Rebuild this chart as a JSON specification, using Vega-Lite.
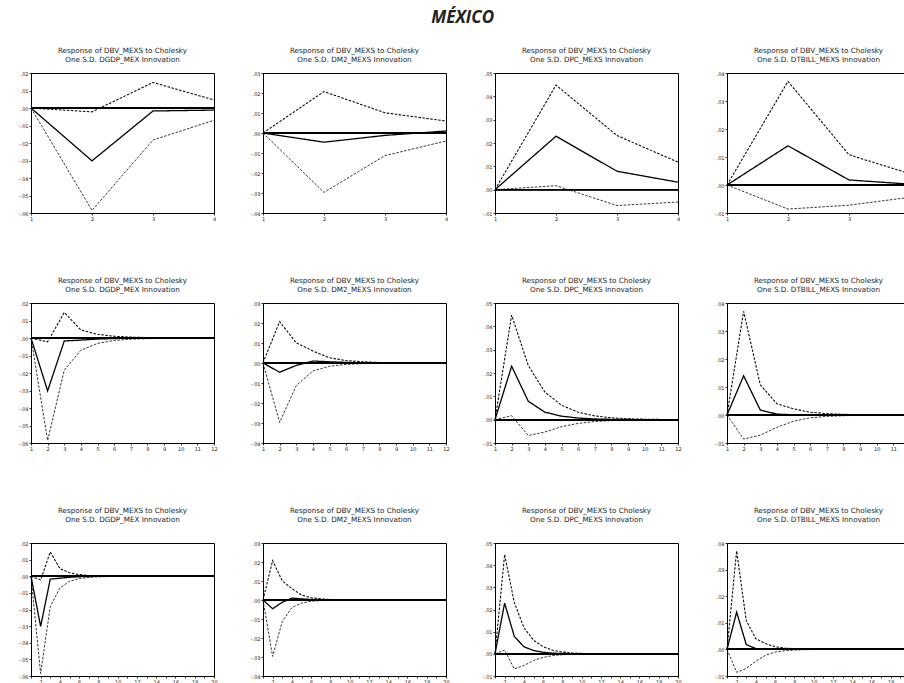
{
 "$schema": "https://vega.github.io/schema/vega-lite/v6.json",
 "padding": {"left": 17, "top": 9, "right": 0, "bottom": 0},
 "background": "white",
 "title": {"text": "MÉXICO", "font": "Open Sans", "fontSize": 17, "fontStyle": "italic", "fontWeight": "bold", "color": "#222", "anchor": "middle", "offset": 19, "dx": -3},
 "data": {"values": [
  {"shock":"DGDP_MEX","period":1,"resp":0,"upper":0,"lower":0},
  {"shock":"DGDP_MEX","period":2,"resp":-0.0302,"upper":-0.0022,"lower":-0.0585},
  {"shock":"DGDP_MEX","period":3,"resp":-0.0017,"upper":0.0146,"lower":-0.0183},
  {"shock":"DGDP_MEX","period":4,"resp":-0.0012,"upper":0.0046,"lower":-0.0070},
  {"shock":"DGDP_MEX","period":5,"resp":-0.0006,"upper":0.0021,"lower":-0.0031},
  {"shock":"DGDP_MEX","period":6,"resp":-0.0003,"upper":0.0010,"lower":-0.0014},
  {"shock":"DGDP_MEX","period":7,"resp":-0.00015,"upper":0.0005,"lower":-0.0007},
  {"shock":"DGDP_MEX","period":8,"resp":-0.00008,"upper":0.00025,"lower":-0.00035},
  {"shock":"DGDP_MEX","period":9,"resp":-0.00004,"upper":0.00012,"lower":-0.00018},
  {"shock":"DGDP_MEX","period":10,"resp":-0.00002,"upper":0.00006,"lower":-0.00009},
  {"shock":"DGDP_MEX","period":11,"resp":-0.00001,"upper":0.00003,"lower":-0.00005},
  {"shock":"DGDP_MEX","period":12,"resp":-0.000005,"upper":0.000015,"lower":-0.00002},
  {"shock":"DGDP_MEX","period":13,"resp":0,"upper":0.00001,"lower":-0.00001},
  {"shock":"DGDP_MEX","period":14,"resp":0,"upper":0,"lower":0},
  {"shock":"DGDP_MEX","period":15,"resp":0,"upper":0,"lower":0},
  {"shock":"DGDP_MEX","period":16,"resp":0,"upper":0,"lower":0},
  {"shock":"DGDP_MEX","period":17,"resp":0,"upper":0,"lower":0},
  {"shock":"DGDP_MEX","period":18,"resp":0,"upper":0,"lower":0},
  {"shock":"DGDP_MEX","period":19,"resp":0,"upper":0,"lower":0},
  {"shock":"DGDP_MEX","period":20,"resp":0,"upper":0,"lower":0},
  {"shock":"DM2_MEXS","period":1,"resp":0,"upper":0,"lower":0},
  {"shock":"DM2_MEXS","period":2,"resp":-0.0046,"upper":0.0207,"lower":-0.0297},
  {"shock":"DM2_MEXS","period":3,"resp":-0.0012,"upper":0.0101,"lower":-0.0113},
  {"shock":"DM2_MEXS","period":4,"resp":0.0010,"upper":0.0060,"lower":-0.0040},
  {"shock":"DM2_MEXS","period":5,"resp":0.0006,"upper":0.0026,"lower":-0.0016},
  {"shock":"DM2_MEXS","period":6,"resp":0.0003,"upper":0.0012,"lower":-0.0007},
  {"shock":"DM2_MEXS","period":7,"resp":0.00015,"upper":0.0006,"lower":-0.0003},
  {"shock":"DM2_MEXS","period":8,"resp":0.00008,"upper":0.0003,"lower":-0.00015},
  {"shock":"DM2_MEXS","period":9,"resp":0.00004,"upper":0.00015,"lower":-0.00008},
  {"shock":"DM2_MEXS","period":10,"resp":0.00002,"upper":0.00008,"lower":-0.00004},
  {"shock":"DM2_MEXS","period":11,"resp":0.00001,"upper":0.00004,"lower":-0.00002},
  {"shock":"DM2_MEXS","period":12,"resp":0.000005,"upper":0.00002,"lower":-0.00001},
  {"shock":"DM2_MEXS","period":13,"resp":0,"upper":0.00001,"lower":0},
  {"shock":"DM2_MEXS","period":14,"resp":0,"upper":0,"lower":0},
  {"shock":"DM2_MEXS","period":15,"resp":0,"upper":0,"lower":0},
  {"shock":"DM2_MEXS","period":16,"resp":0,"upper":0,"lower":0},
  {"shock":"DM2_MEXS","period":17,"resp":0,"upper":0,"lower":0},
  {"shock":"DM2_MEXS","period":18,"resp":0,"upper":0,"lower":0},
  {"shock":"DM2_MEXS","period":19,"resp":0,"upper":0,"lower":0},
  {"shock":"DM2_MEXS","period":20,"resp":0,"upper":0,"lower":0},
  {"shock":"DPC_MEXS","period":1,"resp":0,"upper":0,"lower":0},
  {"shock":"DPC_MEXS","period":2,"resp":0.0229,"upper":0.0448,"lower":0.0017},
  {"shock":"DPC_MEXS","period":3,"resp":0.0079,"upper":0.0232,"lower":-0.0068},
  {"shock":"DPC_MEXS","period":4,"resp":0.0032,"upper":0.0118,"lower":-0.0053},
  {"shock":"DPC_MEXS","period":5,"resp":0.0015,"upper":0.0062,"lower":-0.0030},
  {"shock":"DPC_MEXS","period":6,"resp":0.0007,"upper":0.0032,"lower":-0.0016},
  {"shock":"DPC_MEXS","period":7,"resp":0.0003,"upper":0.0016,"lower":-0.0008},
  {"shock":"DPC_MEXS","period":8,"resp":0.00015,"upper":0.0008,"lower":-0.0004},
  {"shock":"DPC_MEXS","period":9,"resp":0.00007,"upper":0.0004,"lower":-0.0002},
  {"shock":"DPC_MEXS","period":10,"resp":0.00003,"upper":0.0002,"lower":-0.0001},
  {"shock":"DPC_MEXS","period":11,"resp":0.00002,"upper":0.0001,"lower":-0.00005},
  {"shock":"DPC_MEXS","period":12,"resp":0.00001,"upper":0.00005,"lower":-0.00003},
  {"shock":"DPC_MEXS","period":13,"resp":0,"upper":0.00002,"lower":-0.00001},
  {"shock":"DPC_MEXS","period":14,"resp":0,"upper":0.00001,"lower":0},
  {"shock":"DPC_MEXS","period":15,"resp":0,"upper":0,"lower":0},
  {"shock":"DPC_MEXS","period":16,"resp":0,"upper":0,"lower":0},
  {"shock":"DPC_MEXS","period":17,"resp":0,"upper":0,"lower":0},
  {"shock":"DPC_MEXS","period":18,"resp":0,"upper":0,"lower":0},
  {"shock":"DPC_MEXS","period":19,"resp":0,"upper":0,"lower":0},
  {"shock":"DPC_MEXS","period":20,"resp":0,"upper":0,"lower":0},
  {"shock":"DTBILL_MEXS","period":1,"resp":0,"upper":0,"lower":0},
  {"shock":"DTBILL_MEXS","period":2,"resp":0.0140,"upper":0.0370,"lower":-0.0086},
  {"shock":"DTBILL_MEXS","period":3,"resp":0.0018,"upper":0.0108,"lower":-0.0072},
  {"shock":"DTBILL_MEXS","period":4,"resp":0.0003,"upper":0.0040,"lower":-0.0044},
  {"shock":"DTBILL_MEXS","period":5,"resp":0.0001,"upper":0.0022,"lower":-0.0022},
  {"shock":"DTBILL_MEXS","period":6,"resp":0.00005,"upper":0.0010,"lower":-0.0010},
  {"shock":"DTBILL_MEXS","period":7,"resp":0.00002,"upper":0.0005,"lower":-0.0005},
  {"shock":"DTBILL_MEXS","period":8,"resp":0.00001,"upper":0.00025,"lower":-0.00025},
  {"shock":"DTBILL_MEXS","period":9,"resp":0,"upper":0.00012,"lower":-0.00012},
  {"shock":"DTBILL_MEXS","period":10,"resp":0,"upper":0.00006,"lower":-0.00006},
  {"shock":"DTBILL_MEXS","period":11,"resp":0,"upper":0.00003,"lower":-0.00003},
  {"shock":"DTBILL_MEXS","period":12,"resp":0,"upper":0.00001,"lower":-0.00001},
  {"shock":"DTBILL_MEXS","period":13,"resp":0,"upper":0,"lower":0},
  {"shock":"DTBILL_MEXS","period":14,"resp":0,"upper":0,"lower":0},
  {"shock":"DTBILL_MEXS","period":15,"resp":0,"upper":0,"lower":0},
  {"shock":"DTBILL_MEXS","period":16,"resp":0,"upper":0,"lower":0},
  {"shock":"DTBILL_MEXS","period":17,"resp":0,"upper":0,"lower":0},
  {"shock":"DTBILL_MEXS","period":18,"resp":0,"upper":0,"lower":0},
  {"shock":"DTBILL_MEXS","period":19,"resp":0,"upper":0,"lower":0},
  {"shock":"DTBILL_MEXS","period":20,"resp":0,"upper":0,"lower":0}
 ]},
 "columns": 4,
 "spacing": {"row": 54, "column": 31},
 "align": "each",
 "bounds": "full",
 "concat": [
  {"width":183,"height":140,"title":{"text":["Response of DBV_MEXS to Cholesky","One S.D. DGDP_MEX Innovation"]},
   "transform":[{"filter":"datum.shock == 'DGDP_MEX' && datum.period <= 4"},{"fold":["resp","upper","lower"],"as":["series","value"]}],
   "layer":[
    {"mark":{"type":"line","color":"black"},"encoding":{
     "x":{"field":"period","type":"quantitative","scale":{"domain":[1,4],"nice":false,"zero":false},"axis":{"values":[1,2,3,4],"title":null,"labelOverlap":false}},
     "y":{"field":"value","type":"quantitative","scale":{"domain":[-0.06,0.02],"nice":false,"zero":false},"axis":{"values":[-0.06,-0.05,-0.04,-0.03,-0.02,-0.01,0,0.01,0.02],"title":null,"labelOverlap":false,"labelSeparation":-200,"labelExpr":"replace(replace(format(datum.value, '.2f'), '0.', '.'), '\u2212', '-')"}},
     "strokeDash":{"field":"series","type":"nominal","scale":{"domain":["resp","upper","lower"],"range":[[1,0],[2.5,1.5],[2.5,1.5]]},"legend":null},
     "strokeWidth":{"field":"series","type":"nominal","scale":{"domain":["resp","upper","lower"],"range":[1.3,0.8,0.8]},"legend":null}}},
    {"mark":{"type":"rule","color":"black","strokeWidth":0.9},"encoding":{"y":{"datum":0,"type":"quantitative","axis":{"values":[-0.06,-0.05,-0.04,-0.03,-0.02,-0.01,0,0.01,0.02],"title":null,"labelOverlap":false,"labelSeparation":-200,"labelExpr":"replace(replace(format(datum.value, '.2f'), '0.', '.'), '\u2212', '-')"}}}}
   ]},
  {"width":183,"height":140,"title":{"text":["Response of DBV_MEXS to Cholesky","One S.D. DM2_MEXS Innovation"]},
   "transform":[{"filter":"datum.shock == 'DM2_MEXS' && datum.period <= 4"},{"fold":["resp","upper","lower"],"as":["series","value"]}],
   "layer":[
    {"mark":{"type":"line","color":"black"},"encoding":{
     "x":{"field":"period","type":"quantitative","scale":{"domain":[1,4],"nice":false,"zero":false},"axis":{"values":[1,2,3,4],"title":null,"labelOverlap":false}},
     "y":{"field":"value","type":"quantitative","scale":{"domain":[-0.04,0.03],"nice":false,"zero":false},"axis":{"values":[-0.04,-0.03,-0.02,-0.01,0,0.01,0.02,0.03],"title":null,"labelOverlap":false,"labelSeparation":-200,"labelExpr":"replace(replace(format(datum.value, '.2f'), '0.', '.'), '\u2212', '-')"}},
     "strokeDash":{"field":"series","type":"nominal","scale":{"domain":["resp","upper","lower"],"range":[[1,0],[2.5,1.5],[2.5,1.5]]},"legend":null},
     "strokeWidth":{"field":"series","type":"nominal","scale":{"domain":["resp","upper","lower"],"range":[1.3,0.8,0.8]},"legend":null}}},
    {"mark":{"type":"rule","color":"black","strokeWidth":0.9},"encoding":{"y":{"datum":0,"type":"quantitative","axis":{"values":[-0.04,-0.03,-0.02,-0.01,0,0.01,0.02,0.03],"title":null,"labelOverlap":false,"labelSeparation":-200,"labelExpr":"replace(replace(format(datum.value, '.2f'), '0.', '.'), '\u2212', '-')"}}}}
   ]},
  {"width":183,"height":140,"title":{"text":["Response of DBV_MEXS to Cholesky","One S.D. DPC_MEXS Innovation"]},
   "transform":[{"filter":"datum.shock == 'DPC_MEXS' && datum.period <= 4"},{"fold":["resp","upper","lower"],"as":["series","value"]}],
   "layer":[
    {"mark":{"type":"line","color":"black"},"encoding":{
     "x":{"field":"period","type":"quantitative","scale":{"domain":[1,4],"nice":false,"zero":false},"axis":{"values":[1,2,3,4],"title":null,"labelOverlap":false}},
     "y":{"field":"value","type":"quantitative","scale":{"domain":[-0.01,0.05],"nice":false,"zero":false},"axis":{"values":[-0.01,0,0.01,0.02,0.03,0.04,0.05],"title":null,"labelOverlap":false,"labelSeparation":-200,"labelExpr":"replace(replace(format(datum.value, '.2f'), '0.', '.'), '\u2212', '-')"}},
     "strokeDash":{"field":"series","type":"nominal","scale":{"domain":["resp","upper","lower"],"range":[[1,0],[2.5,1.5],[2.5,1.5]]},"legend":null},
     "strokeWidth":{"field":"series","type":"nominal","scale":{"domain":["resp","upper","lower"],"range":[1.3,0.8,0.8]},"legend":null}}},
    {"mark":{"type":"rule","color":"black","strokeWidth":0.9},"encoding":{"y":{"datum":0,"type":"quantitative","axis":{"values":[-0.01,0,0.01,0.02,0.03,0.04,0.05],"title":null,"labelOverlap":false,"labelSeparation":-200,"labelExpr":"replace(replace(format(datum.value, '.2f'), '0.', '.'), '\u2212', '-')"}}}}
   ]},
  {"width":183,"height":140,"title":{"text":["Response of DBV_MEXS to Cholesky","One S.D. DTBILL_MEXS Innovation"]},
   "transform":[{"filter":"datum.shock == 'DTBILL_MEXS' && datum.period <= 4"},{"fold":["resp","upper","lower"],"as":["series","value"]}],
   "layer":[
    {"mark":{"type":"line","color":"black"},"encoding":{
     "x":{"field":"period","type":"quantitative","scale":{"domain":[1,4],"nice":false,"zero":false},"axis":{"values":[1,2,3,4],"title":null,"labelOverlap":false}},
     "y":{"field":"value","type":"quantitative","scale":{"domain":[-0.01,0.04],"nice":false,"zero":false},"axis":{"values":[-0.01,0,0.01,0.02,0.03,0.04],"title":null,"labelOverlap":false,"labelSeparation":-200,"labelExpr":"replace(replace(format(datum.value, '.2f'), '0.', '.'), '\u2212', '-')"}},
     "strokeDash":{"field":"series","type":"nominal","scale":{"domain":["resp","upper","lower"],"range":[[1,0],[2.5,1.5],[2.5,1.5]]},"legend":null},
     "strokeWidth":{"field":"series","type":"nominal","scale":{"domain":["resp","upper","lower"],"range":[1.3,0.8,0.8]},"legend":null}}},
    {"mark":{"type":"rule","color":"black","strokeWidth":0.9},"encoding":{"y":{"datum":0,"type":"quantitative","axis":{"values":[-0.01,0,0.01,0.02,0.03,0.04],"title":null,"labelOverlap":false,"labelSeparation":-200,"labelExpr":"replace(replace(format(datum.value, '.2f'), '0.', '.'), '\u2212', '-')"}}}}
   ]},
  {"width":183,"height":140,"title":{"text":["Response of DBV_MEXS to Cholesky","One S.D. DGDP_MEX Innovation"]},
   "transform":[{"filter":"datum.shock == 'DGDP_MEX' && datum.period <= 12"},{"fold":["resp","upper","lower"],"as":["series","value"]}],
   "layer":[
    {"mark":{"type":"line","color":"black"},"encoding":{
     "x":{"field":"period","type":"quantitative","scale":{"domain":[1,12],"nice":false,"zero":false},"axis":{"values":[1,2,3,4,5,6,7,8,9,10,11,12],"title":null,"labelOverlap":false}},
     "y":{"field":"value","type":"quantitative","scale":{"domain":[-0.06,0.02],"nice":false,"zero":false},"axis":{"values":[-0.06,-0.05,-0.04,-0.03,-0.02,-0.01,0,0.01,0.02],"title":null,"labelOverlap":false,"labelSeparation":-200,"labelExpr":"replace(replace(format(datum.value, '.2f'), '0.', '.'), '\u2212', '-')"}},
     "strokeDash":{"field":"series","type":"nominal","scale":{"domain":["resp","upper","lower"],"range":[[1,0],[2.5,1.5],[2.5,1.5]]},"legend":null},
     "strokeWidth":{"field":"series","type":"nominal","scale":{"domain":["resp","upper","lower"],"range":[1.3,0.8,0.8]},"legend":null}}},
    {"mark":{"type":"rule","color":"black","strokeWidth":0.9},"encoding":{"y":{"datum":0,"type":"quantitative","axis":{"values":[-0.06,-0.05,-0.04,-0.03,-0.02,-0.01,0,0.01,0.02],"title":null,"labelOverlap":false,"labelSeparation":-200,"labelExpr":"replace(replace(format(datum.value, '.2f'), '0.', '.'), '\u2212', '-')"}}}}
   ]},
  {"width":183,"height":140,"title":{"text":["Response of DBV_MEXS to Cholesky","One S.D. DM2_MEXS Innovation"]},
   "transform":[{"filter":"datum.shock == 'DM2_MEXS' && datum.period <= 12"},{"fold":["resp","upper","lower"],"as":["series","value"]}],
   "layer":[
    {"mark":{"type":"line","color":"black"},"encoding":{
     "x":{"field":"period","type":"quantitative","scale":{"domain":[1,12],"nice":false,"zero":false},"axis":{"values":[1,2,3,4,5,6,7,8,9,10,11,12],"title":null,"labelOverlap":false}},
     "y":{"field":"value","type":"quantitative","scale":{"domain":[-0.04,0.03],"nice":false,"zero":false},"axis":{"values":[-0.04,-0.03,-0.02,-0.01,0,0.01,0.02,0.03],"title":null,"labelOverlap":false,"labelSeparation":-200,"labelExpr":"replace(replace(format(datum.value, '.2f'), '0.', '.'), '\u2212', '-')"}},
     "strokeDash":{"field":"series","type":"nominal","scale":{"domain":["resp","upper","lower"],"range":[[1,0],[2.5,1.5],[2.5,1.5]]},"legend":null},
     "strokeWidth":{"field":"series","type":"nominal","scale":{"domain":["resp","upper","lower"],"range":[1.3,0.8,0.8]},"legend":null}}},
    {"mark":{"type":"rule","color":"black","strokeWidth":0.9},"encoding":{"y":{"datum":0,"type":"quantitative","axis":{"values":[-0.04,-0.03,-0.02,-0.01,0,0.01,0.02,0.03],"title":null,"labelOverlap":false,"labelSeparation":-200,"labelExpr":"replace(replace(format(datum.value, '.2f'), '0.', '.'), '\u2212', '-')"}}}}
   ]},
  {"width":183,"height":140,"title":{"text":["Response of DBV_MEXS to Cholesky","One S.D. DPC_MEXS Innovation"]},
   "transform":[{"filter":"datum.shock == 'DPC_MEXS' && datum.period <= 12"},{"fold":["resp","upper","lower"],"as":["series","value"]}],
   "layer":[
    {"mark":{"type":"line","color":"black"},"encoding":{
     "x":{"field":"period","type":"quantitative","scale":{"domain":[1,12],"nice":false,"zero":false},"axis":{"values":[1,2,3,4,5,6,7,8,9,10,11,12],"title":null,"labelOverlap":false}},
     "y":{"field":"value","type":"quantitative","scale":{"domain":[-0.01,0.05],"nice":false,"zero":false},"axis":{"values":[-0.01,0,0.01,0.02,0.03,0.04,0.05],"title":null,"labelOverlap":false,"labelSeparation":-200,"labelExpr":"replace(replace(format(datum.value, '.2f'), '0.', '.'), '\u2212', '-')"}},
     "strokeDash":{"field":"series","type":"nominal","scale":{"domain":["resp","upper","lower"],"range":[[1,0],[2.5,1.5],[2.5,1.5]]},"legend":null},
     "strokeWidth":{"field":"series","type":"nominal","scale":{"domain":["resp","upper","lower"],"range":[1.3,0.8,0.8]},"legend":null}}},
    {"mark":{"type":"rule","color":"black","strokeWidth":0.9},"encoding":{"y":{"datum":0,"type":"quantitative","axis":{"values":[-0.01,0,0.01,0.02,0.03,0.04,0.05],"title":null,"labelOverlap":false,"labelSeparation":-200,"labelExpr":"replace(replace(format(datum.value, '.2f'), '0.', '.'), '\u2212', '-')"}}}}
   ]},
  {"width":183,"height":140,"title":{"text":["Response of DBV_MEXS to Cholesky","One S.D. DTBILL_MEXS Innovation"]},
   "transform":[{"filter":"datum.shock == 'DTBILL_MEXS' && datum.period <= 12"},{"fold":["resp","upper","lower"],"as":["series","value"]}],
   "layer":[
    {"mark":{"type":"line","color":"black"},"encoding":{
     "x":{"field":"period","type":"quantitative","scale":{"domain":[1,12],"nice":false,"zero":false},"axis":{"values":[1,2,3,4,5,6,7,8,9,10,11,12],"title":null,"labelOverlap":false}},
     "y":{"field":"value","type":"quantitative","scale":{"domain":[-0.01,0.04],"nice":false,"zero":false},"axis":{"values":[-0.01,0,0.01,0.02,0.03,0.04],"title":null,"labelOverlap":false,"labelSeparation":-200,"labelExpr":"replace(replace(format(datum.value, '.2f'), '0.', '.'), '\u2212', '-')"}},
     "strokeDash":{"field":"series","type":"nominal","scale":{"domain":["resp","upper","lower"],"range":[[1,0],[2.5,1.5],[2.5,1.5]]},"legend":null},
     "strokeWidth":{"field":"series","type":"nominal","scale":{"domain":["resp","upper","lower"],"range":[1.3,0.8,0.8]},"legend":null}}},
    {"mark":{"type":"rule","color":"black","strokeWidth":0.9},"encoding":{"y":{"datum":0,"type":"quantitative","axis":{"values":[-0.01,0,0.01,0.02,0.03,0.04],"title":null,"labelOverlap":false,"labelSeparation":-200,"labelExpr":"replace(replace(format(datum.value, '.2f'), '0.', '.'), '\u2212', '-')"}}}}
   ]},
  {"width":183,"height":133,"title":{"text":["Response of DBV_MEXS to Cholesky","One S.D. DGDP_MEX Innovation"],"offset":18},
   "transform":[{"filter":"datum.shock == 'DGDP_MEX' && datum.period <= 20"},{"fold":["resp","upper","lower"],"as":["series","value"]}],
   "layer":[
    {"mark":{"type":"line","color":"black"},"encoding":{
     "x":{"field":"period","type":"quantitative","scale":{"domain":[1,20],"nice":false,"zero":false},"axis":{"values":[1,2,3,4,5,6,7,8,9,10,11,12,13,14,15,16,17,18,19,20],"title":null,"labelOverlap":false,"labelExpr":"datum.value % 2 == 0 ? datum.label : ''"}},
     "y":{"field":"value","type":"quantitative","scale":{"domain":[-0.06,0.02],"nice":false,"zero":false},"axis":{"values":[-0.06,-0.05,-0.04,-0.03,-0.02,-0.01,0,0.01,0.02],"title":null,"labelOverlap":false,"labelSeparation":-200,"labelExpr":"replace(replace(format(datum.value, '.2f'), '0.', '.'), '\u2212', '-')"}},
     "strokeDash":{"field":"series","type":"nominal","scale":{"domain":["resp","upper","lower"],"range":[[1,0],[2.5,1.5],[2.5,1.5]]},"legend":null},
     "strokeWidth":{"field":"series","type":"nominal","scale":{"domain":["resp","upper","lower"],"range":[1.3,0.8,0.8]},"legend":null}}},
    {"mark":{"type":"rule","color":"black","strokeWidth":0.9},"encoding":{"y":{"datum":0,"type":"quantitative","axis":{"values":[-0.06,-0.05,-0.04,-0.03,-0.02,-0.01,0,0.01,0.02],"title":null,"labelOverlap":false,"labelSeparation":-200,"labelExpr":"replace(replace(format(datum.value, '.2f'), '0.', '.'), '\u2212', '-')"}}}}
   ]},
  {"width":183,"height":133,"title":{"text":["Response of DBV_MEXS to Cholesky","One S.D. DM2_MEXS Innovation"],"offset":18},
   "transform":[{"filter":"datum.shock == 'DM2_MEXS' && datum.period <= 20"},{"fold":["resp","upper","lower"],"as":["series","value"]}],
   "layer":[
    {"mark":{"type":"line","color":"black"},"encoding":{
     "x":{"field":"period","type":"quantitative","scale":{"domain":[1,20],"nice":false,"zero":false},"axis":{"values":[1,2,3,4,5,6,7,8,9,10,11,12,13,14,15,16,17,18,19,20],"title":null,"labelOverlap":false,"labelExpr":"datum.value % 2 == 0 ? datum.label : ''"}},
     "y":{"field":"value","type":"quantitative","scale":{"domain":[-0.04,0.03],"nice":false,"zero":false},"axis":{"values":[-0.04,-0.03,-0.02,-0.01,0,0.01,0.02,0.03],"title":null,"labelOverlap":false,"labelSeparation":-200,"labelExpr":"replace(replace(format(datum.value, '.2f'), '0.', '.'), '\u2212', '-')"}},
     "strokeDash":{"field":"series","type":"nominal","scale":{"domain":["resp","upper","lower"],"range":[[1,0],[2.5,1.5],[2.5,1.5]]},"legend":null},
     "strokeWidth":{"field":"series","type":"nominal","scale":{"domain":["resp","upper","lower"],"range":[1.3,0.8,0.8]},"legend":null}}},
    {"mark":{"type":"rule","color":"black","strokeWidth":0.9},"encoding":{"y":{"datum":0,"type":"quantitative","axis":{"values":[-0.04,-0.03,-0.02,-0.01,0,0.01,0.02,0.03],"title":null,"labelOverlap":false,"labelSeparation":-200,"labelExpr":"replace(replace(format(datum.value, '.2f'), '0.', '.'), '\u2212', '-')"}}}}
   ]},
  {"width":183,"height":133,"title":{"text":["Response of DBV_MEXS to Cholesky","One S.D. DPC_MEXS Innovation"],"offset":18},
   "transform":[{"filter":"datum.shock == 'DPC_MEXS' && datum.period <= 20"},{"fold":["resp","upper","lower"],"as":["series","value"]}],
   "layer":[
    {"mark":{"type":"line","color":"black"},"encoding":{
     "x":{"field":"period","type":"quantitative","scale":{"domain":[1,20],"nice":false,"zero":false},"axis":{"values":[1,2,3,4,5,6,7,8,9,10,11,12,13,14,15,16,17,18,19,20],"title":null,"labelOverlap":false,"labelExpr":"datum.value % 2 == 0 ? datum.label : ''"}},
     "y":{"field":"value","type":"quantitative","scale":{"domain":[-0.01,0.05],"nice":false,"zero":false},"axis":{"values":[-0.01,0,0.01,0.02,0.03,0.04,0.05],"title":null,"labelOverlap":false,"labelSeparation":-200,"labelExpr":"replace(replace(format(datum.value, '.2f'), '0.', '.'), '\u2212', '-')"}},
     "strokeDash":{"field":"series","type":"nominal","scale":{"domain":["resp","upper","lower"],"range":[[1,0],[2.5,1.5],[2.5,1.5]]},"legend":null},
     "strokeWidth":{"field":"series","type":"nominal","scale":{"domain":["resp","upper","lower"],"range":[1.3,0.8,0.8]},"legend":null}}},
    {"mark":{"type":"rule","color":"black","strokeWidth":0.9},"encoding":{"y":{"datum":0,"type":"quantitative","axis":{"values":[-0.01,0,0.01,0.02,0.03,0.04,0.05],"title":null,"labelOverlap":false,"labelSeparation":-200,"labelExpr":"replace(replace(format(datum.value, '.2f'), '0.', '.'), '\u2212', '-')"}}}}
   ]},
  {"width":183,"height":133,"title":{"text":["Response of DBV_MEXS to Cholesky","One S.D. DTBILL_MEXS Innovation"],"offset":18},
   "transform":[{"filter":"datum.shock == 'DTBILL_MEXS' && datum.period <= 20"},{"fold":["resp","upper","lower"],"as":["series","value"]}],
   "layer":[
    {"mark":{"type":"line","color":"black"},"encoding":{
     "x":{"field":"period","type":"quantitative","scale":{"domain":[1,20],"nice":false,"zero":false},"axis":{"values":[1,2,3,4,5,6,7,8,9,10,11,12,13,14,15,16,17,18,19,20],"title":null,"labelOverlap":false,"labelExpr":"datum.value % 2 == 0 ? datum.label : ''"}},
     "y":{"field":"value","type":"quantitative","scale":{"domain":[-0.01,0.04],"nice":false,"zero":false},"axis":{"values":[-0.01,0,0.01,0.02,0.03,0.04],"title":null,"labelOverlap":false,"labelSeparation":-200,"labelExpr":"replace(replace(format(datum.value, '.2f'), '0.', '.'), '\u2212', '-')"}},
     "strokeDash":{"field":"series","type":"nominal","scale":{"domain":["resp","upper","lower"],"range":[[1,0],[2.5,1.5],[2.5,1.5]]},"legend":null},
     "strokeWidth":{"field":"series","type":"nominal","scale":{"domain":["resp","upper","lower"],"range":[1.3,0.8,0.8]},"legend":null}}},
    {"mark":{"type":"rule","color":"black","strokeWidth":0.9},"encoding":{"y":{"datum":0,"type":"quantitative","axis":{"values":[-0.01,0,0.01,0.02,0.03,0.04],"title":null,"labelOverlap":false,"labelSeparation":-200,"labelExpr":"replace(replace(format(datum.value, '.2f'), '0.', '.'), '\u2212', '-')"}}}}
   ]}
 ],
 "config": {
  "view": {"stroke": "black", "strokeWidth": 1},
  "axis": {"domainColor": "black", "domainWidth": 1, "tickColor": "black", "tickWidth": 0.8, "tickSize": 2, "labelPadding": 1, "labelFontSize": 5, "labelFont": "DejaVu Sans", "labelColor": "#222", "grid": false, "labelFlush": false, "labelOverlap": false},
  "axisY": {"labelOverlap": false},
  "title": {"font": "DejaVu Sans", "fontSize": 7.2, "fontWeight": "normal", "color": "#222", "offset": 8, "lineHeight": 9, "anchor": "middle"}
 }
}
